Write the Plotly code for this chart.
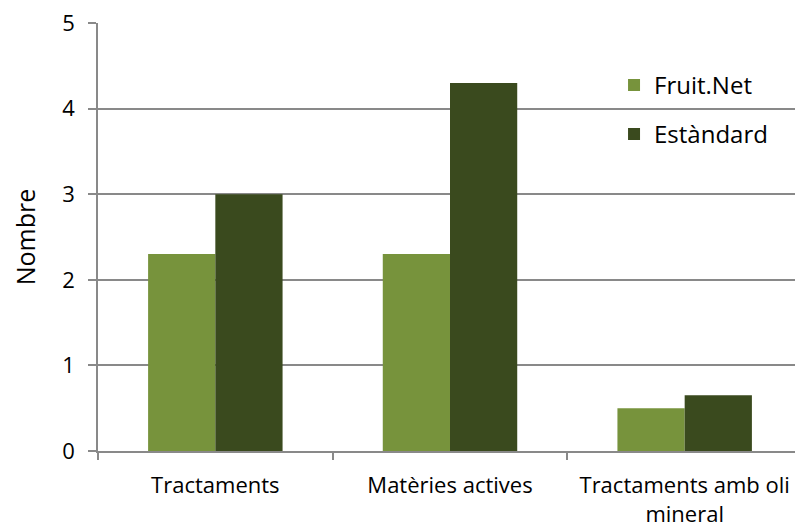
import plotly.graph_objects as go

categories = ["Tractaments", "Matèries actives", "Tractaments amb oli<br>mineral"]
fruitnet = [2.3, 2.3, 0.5]
estandard = [3.0, 4.3, 0.65]
series_names = ["Fruit.Net", "Estàndard"]
y_ticks = [0, 1, 2, 3, 4, 5]

FONT = "Open Sans"
grid_col = "#898989"

fig = go.Figure()
fig.add_trace(go.Bar(x=categories, y=fruitnet, name=series_names[0],
                     marker=dict(color="#77933C", line=dict(width=0)),
                     legendgroup="a"))
fig.add_trace(go.Bar(x=categories, y=estandard, name=series_names[1],
                     marker=dict(color="#3A4A1E", line=dict(width=0)),
                     legendgroup="b"))

fig.update_layout(
    width=795, height=523,
    margin=dict(l=90, r=1, t=15, b=80, autoexpand=False),
    paper_bgcolor="white", plot_bgcolor="white",
    barmode="group", bargap=0.427, bargroupgap=0,
    font=dict(family=FONT, size=22, color="#000000"),
    showlegend=True,
    legend=dict(x=0.733, y=0.907, xanchor="left", yanchor="top",
                bgcolor="rgba(0,0,0,0)", font=dict(size=24, family=FONT),
                tracegroupgap=15),
    xaxis=dict(showline=True, linecolor=grid_col, linewidth=1.5,
               ticks="outside", ticklen=7, tickcolor=grid_col, tickwidth=1.5,
               tickson="boundaries", showgrid=False, automargin=False,
               ticklabelstandoff=14, ticklabeloverflow="allow",
               tickfont=dict(size=22, family=FONT)),
    yaxis=dict(range=[0, 5], tickvals=y_ticks, showline=True,
               linecolor=grid_col, linewidth=1.5, ticks="outside",
               ticklen=8, tickcolor=grid_col, tickwidth=1.5,
               showgrid=True, gridcolor=grid_col, gridwidth=1.5,
               zeroline=False, automargin=False, ticklabelstandoff=9,
               ticklabeloverflow="allow",
               tickfont=dict(size=22, family=FONT),
               title=dict(text="Nombre", font=dict(size=25, family=FONT), standoff=24)),
)

fig.write_html("out.html")
